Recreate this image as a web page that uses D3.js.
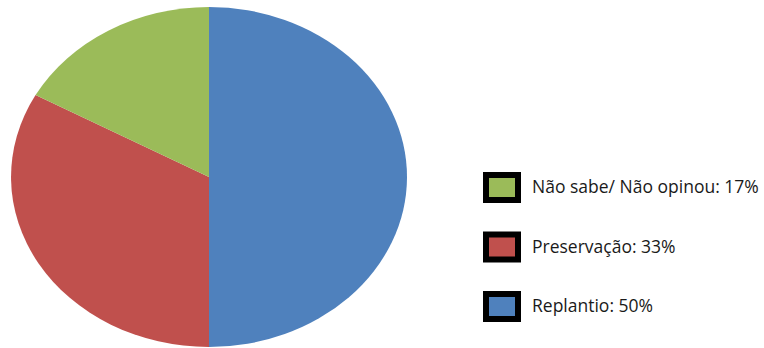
<!DOCTYPE html>
<html><head><meta charset="utf-8">
<script src="https://cdn.jsdelivr.net/npm/d3@7"></script>
<style>body{margin:0;background:#fff;}svg{display:block;}</style>
</head><body>
<svg id="c" width="764" height="348"></svg>
<script>
const categories = ["Replantio", "Preservação", "Não sabe/ Não opinou"];
const values = [50, 33, 17];
const colors = ["#4F81BD", "#C0504D", "#9BBB59"];
const legendOrder = ["Não sabe/ Não opinou", "Preservação", "Replantio"];

const svg = d3.select("#c");
const cx = 209, cy = 177, rx = 198, ry = 170;
const pie = d3.pie().sort(null).value(d => d.v);
const data = categories.map((c, i) => ({c, v: values[i], col: colors[i]}));
const arc = d3.arc().innerRadius(0).outerRadius(1);
const g = svg.append("g").attr("transform", `translate(${cx},${cy}) scale(${rx},${ry})`);
g.selectAll("path").data(pie(data)).join("path")
  .attr("d", arc).attr("fill", d => d.data.col);

const legendY = d3.scalePoint().domain(legendOrder).range([187, 306]);
const lg = svg.append("g");
legendOrder.forEach(name => {
  const i = categories.indexOf(name);
  const y = legendY(name);
  lg.append("rect").attr("x", 486).attr("y", y - 12).attr("width", 32).attr("height", 25)
    .attr("fill", colors[i]).attr("stroke", "#000").attr("stroke-width", 6);
  lg.append("text").attr("x", 532).attr("y", y + 6)
    .attr("font-family", "Open Sans, sans-serif").attr("font-size", 17.5)
    .attr("fill", "#1a1a1a")
    .text(`${name}: ${values[i]}%`);
});
</script>
</body></html>
